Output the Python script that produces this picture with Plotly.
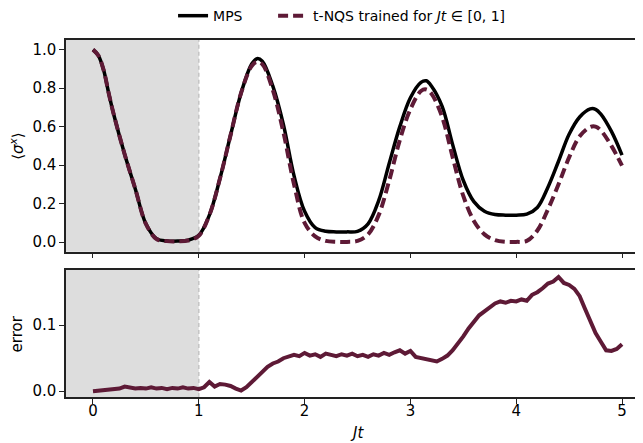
import plotly.graph_objects as go

# ---- data ----
t_sig = [0.0, 0.05, 0.1, 0.15, 0.2, 0.3, 0.4, 0.5, 0.6, 0.7, 0.8, 0.9, 1.0,
         1.1, 1.2, 1.3, 1.4, 1.5, 1.55, 1.6, 1.7, 1.8, 1.9, 2.0,
         2.1, 2.2, 2.3, 2.4, 2.5, 2.6, 2.7, 2.8, 2.9, 3.0,
         3.1, 3.15, 3.2, 3.3, 3.4, 3.5, 3.6, 3.7, 3.8, 3.9, 4.0,
         4.1, 4.2, 4.3, 4.4, 4.5, 4.6, 4.7, 4.75, 4.8, 4.9, 5.0]
mps = [1.00, 0.97, 0.895, 0.77, 0.655, 0.455, 0.276, 0.095, 0.018, 0.006, 0.005, 0.01, 0.035,
       0.14, 0.33, 0.555, 0.775, 0.925, 0.953, 0.94, 0.81, 0.61, 0.345, 0.16,
       0.075, 0.056, 0.053, 0.053, 0.056, 0.095, 0.215, 0.41, 0.60, 0.75,
       0.83, 0.838, 0.81, 0.705, 0.505, 0.32, 0.21, 0.16, 0.143, 0.14, 0.14,
       0.145, 0.18, 0.285, 0.42, 0.56, 0.65, 0.692, 0.69, 0.665, 0.575, 0.452]
nqs = [1.00, 0.97, 0.895, 0.77, 0.655, 0.455, 0.276, 0.095, 0.016, 0.005, 0.004, 0.008, 0.033,
       0.14, 0.33, 0.555, 0.775, 0.915, 0.936, 0.925, 0.79, 0.57, 0.30, 0.10,
       0.03, 0.006, 0.001, 0.001, 0.006, 0.04, 0.14, 0.32, 0.53, 0.69,
       0.785, 0.793, 0.77, 0.65, 0.44, 0.24, 0.11, 0.04, 0.01, 0.001, 0.001,
       0.006, 0.06, 0.17, 0.30, 0.44, 0.55, 0.598, 0.60, 0.58, 0.50, 0.397]

t_err = [i * 0.05 for i in range(101)]
err = [0.000, 0.001, 0.002, 0.002, 0.003, 0.004, 0.007, 0.005, 0.004, 0.005,
       0.004, 0.006, 0.004, 0.005, 0.003, 0.005, 0.004, 0.006, 0.004, 0.005,
       0.003, 0.006, 0.014, 0.007, 0.011, 0.010, 0.008, 0.004, 0.001, 0.006,
       0.014, 0.022, 0.030, 0.037, 0.042, 0.045, 0.050, 0.053, 0.055, 0.053,
       0.058, 0.054, 0.056, 0.052, 0.057, 0.055, 0.053, 0.056, 0.054, 0.057,
       0.053, 0.055, 0.052, 0.056, 0.054, 0.058, 0.055, 0.059, 0.062, 0.057,
       0.061, 0.052, 0.050, 0.048, 0.046, 0.045, 0.049, 0.054, 0.062, 0.072,
       0.083, 0.095, 0.104, 0.115, 0.121, 0.127, 0.133, 0.136, 0.134, 0.137,
       0.136, 0.139, 0.137, 0.146, 0.150, 0.156, 0.163, 0.166, 0.173, 0.164,
       0.161, 0.155, 0.144, 0.125, 0.105, 0.088, 0.075, 0.062, 0.061, 0.064,
       0.071]

train_end = 1.0
x_ticks = [0, 1, 2, 3, 4, 5]
y1_ticks = [0.0, 0.2, 0.4, 0.6, 0.8, 1.0]
y2_ticks = [0.0, 0.1]

MAROON = "#5e1a36"
FONT = "DejaVu Sans"
FS = 15
XR = [-0.255, 5.274]

fig = go.Figure()
fig.add_trace(go.Scatter(x=t_sig, y=mps, mode="lines", name="MPS", legend="legend",
                         line=dict(color="black", width=3.5, shape="spline", smoothing=1.0),
                         xaxis="x", yaxis="y"))
fig.add_trace(go.Scatter(x=t_sig, y=nqs, mode="lines", legend="legend2",
                         name="t-NQS trained for <i>Jt</i> ∈ [0, 1]",
                         line=dict(color=MAROON, width=4, dash="10px,5px", shape="spline", smoothing=1.0),
                         xaxis="x", yaxis="y"))
fig.add_trace(go.Scatter(x=t_err, y=err, mode="lines", showlegend=False,
                         line=dict(color=MAROON, width=4),
                         xaxis="x2", yaxis="y2"))

shapes = []
for xa, ya in (("x", "y"), ("x2", "y2")):
    shapes.append(dict(type="rect", xref=xa, yref=ya + " domain", x0=XR[0], x1=train_end,
                       y0=0, y1=1, fillcolor="#dddddd", line=dict(width=0), layer="below"))
    shapes.append(dict(type="line", xref=xa, yref=ya + " domain", x0=train_end, x1=train_end,
                       y0=0, y1=1, line=dict(color="#c4c4c4", width=1.5, dash="4px,3px"),
                       layer="below"))

axis_common = dict(showline=True, linecolor="#222222", linewidth=1.5, ticks="outside",
                   ticklen=5, tickwidth=1, tickcolor="#222222", showgrid=False, zeroline=False,
                   automargin=False,
                   tickfont=dict(family=FONT, size=FS, color="black"))

annotations = [
    dict(text="⟨<i>σ<sup>x</sup></i>⟩", xref="paper", yref="paper", x=-0.0838, y=0.7035,
         textangle=-90, showarrow=False, xanchor="center", yanchor="middle",
         font=dict(family=FONT, size=FS, color="black")),
    dict(text="error", xref="paper", yref="paper", x=-0.0838, y=0.178,
         textangle=-90, showarrow=False, xanchor="center", yanchor="middle",
         font=dict(family=FONT, size=FS, color="black")),
    dict(text="<i>Jt</i>", xref="paper", yref="paper", x=0.497, y=-0.101,
         showarrow=False, xanchor="center", yanchor="middle",
         font=dict(family=FONT, size=FS, color="black")),
]

legend_common = dict(orientation="h", xanchor="left", y=1.067, yanchor="middle",
                     font=dict(family=FONT, size=14), itemwidth=30, bgcolor="rgba(0,0,0,0)")

fig.update_layout(
    width=643, height=443,
    margin=dict(l=58, r=0, t=32, b=54, autoexpand=False),
    plot_bgcolor="white", paper_bgcolor="white",
    font=dict(family=FONT, size=FS, color="black"),
    shapes=shapes,
    annotations=annotations,
    showlegend=True,
    legend=dict(legend_common, x=0.183),
    legend2=dict(legend_common, x=0.354),
    xaxis=dict(axis_common, domain=[0, 1], range=XR, mirror=True, tickvals=x_ticks,
               showticklabels=False, anchor="y"),
    yaxis=dict(axis_common, domain=[0.407, 1], range=[-0.05, 1.05], tickvals=y1_ticks,
               tickformat=".1f", mirror=False, anchor="x"),
    xaxis2=dict(axis_common, domain=[0, 1], range=XR, mirror=True, tickvals=x_ticks,
                anchor="y2", ticklabelstandoff=-6),
    yaxis2=dict(axis_common, domain=[0, 0.356], range=[-0.00875, 0.18375], tickvals=y2_ticks,
                tickformat=".1f", mirror=False, anchor="x2"),
)

fig.write_html("out.html")
